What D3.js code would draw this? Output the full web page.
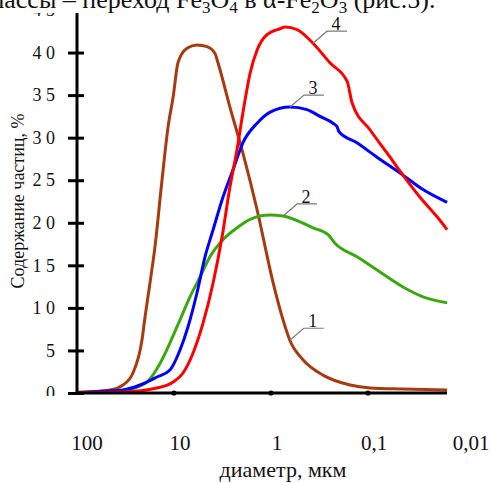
<!DOCTYPE html>
<html>
<head>
<meta charset="utf-8">
<script src="https://cdn.jsdelivr.net/npm/d3@7"></script>
<style>
  body { margin: 0; background: #fff; }
</style>
</head>
<body>
<div id="chart"></div>
<script>
// diameters (мкм) and contents (%)
const d1 = [100, 45.7, 33.6, 26.5, 21.4, 19.9, 17.7, 15.7, 13.3, 11.5, 10.2, 9.1, 7.35, 5.8, 4.57, 3.78, 3.52, 2.65, 1.95, 1.39, 0.953, 0.77, 0.64, 0.468, 0.291, 0.153, 0.095, 0.044, 0.0153];
const v1 = [0.05, 0.35, 0.94, 2.35, 6.2, 8.9, 12.9, 17.2, 25.0, 31.3, 34.8, 38.8, 40.5, 40.9, 40.7, 39.9, 38.8, 33.6, 28.2, 21.5, 13.0, 9.0, 6.2, 3.9, 2.1, 0.94, 0.6, 0.47, 0.35];

const d2 = [100, 33.6, 22.4, 19.0, 13.9, 11.0, 8.67, 6.84, 5.4, 4.26, 3.13, 2.24, 1.64, 1.02, 0.751, 0.502, 0.369, 0.258, 0.219, 0.13, 0.0807, 0.0436, 0.0271, 0.0153];
const v2 = [0.05, 0.3, 0.82, 1.29, 3.5, 5.9, 8.6, 11.3, 13.6, 16.0, 18.0, 19.4, 20.4, 20.9, 20.8, 20.1, 19.4, 18.6, 17.6, 16.0, 14.45, 12.45, 11.3, 10.6];

const d3v = [100, 73.5, 33.6, 22.4, 15.0, 11.0, 8.67, 7.18, 5.8, 4.79, 3.96, 3.13, 2.47, 1.95, 1.39, 1.02, 0.637, 0.426, 0.313, 0.23, 0.209, 0.199, 0.13, 0.0807, 0.0436, 0.0271, 0.0153];
const v3 = [0.05, 0.12, 0.35, 0.94, 1.88, 2.7, 5.05, 7.75, 11.75, 16.0, 19.15, 23.0, 26.2, 29.4, 31.7, 33.0, 33.6, 33.3, 32.5, 31.7, 31.3, 30.7, 29.4, 27.7, 25.6, 23.9, 22.4];

const d4 = [100, 33.6, 15.0, 10.2, 8.07, 6.36, 5.02, 3.96, 3.2, 2.65, 2.24, 1.95, 1.64, 1.39, 1.10, 0.807, 0.718, 0.54, 0.369, 0.247, 0.164, 0.146, 0.095, 0.0637, 0.0436, 0.0291, 0.0194, 0.0153];
const v4 = [0.05, 0.12, 0.59, 1.29, 2.35, 4.7, 8.2, 12.9, 18.3, 24.2, 28.6, 32.9, 37.6, 40.3, 42.1, 42.8, 43.0, 42.7, 41.1, 38.8, 36.6, 34.1, 30.9, 28.2, 25.6, 23.0, 20.7, 19.2];

const seriesNames = ["1", "2", "3", "4"];
const seriesColors = ["#A83A10", "#3BA80F", "#0000FF", "#FF0000"];
// diameter where each number's leader line meets its curve
const labelAt = [0.64, 0.751, 0.637, 0.369];

const xTicks = [100, 10, 1, 0.1, 0.01];
const xTickLabels = ["100", "10", "1", "0,1", "0,01"];
const yTicks = [0, 5, 10, 15, 20, 25, 30, 35, 40, 45];

const FONT = "'Liberation Serif', 'Times New Roman', 'DejaVu Serif', serif";
const W = 491, H = 483;
const svg = d3.select("#chart").append("svg")
    .attr("width", W)
    .attr("height", H)
    .attr("font-family", FONT);

const x = d3.scaleLog().domain([100, 0.01]).range([77, 465]);
const y = d3.scaleLinear().domain([0, 45]).range([393, 10]);
const xEnd = 447;

const series = [
    { name: seriesNames[0], d: d1, v: v1 },
    { name: seriesNames[1], d: d2, v: v2 },
    { name: seriesNames[2], d: d3v, v: v3 },
    { name: seriesNames[3], d: d4, v: v4 }
];

// curves
const line = d3.line()
    .x(p => x(p[0]))
    .y(p => y(p[1]))
    .curve(d3.curveMonotoneX);

series.forEach((s, i) => {
    svg.append("path")
        .datum(d3.zip(s.d, s.v))
        .attr("fill", "none")
        .attr("stroke", seriesColors[i])
        .attr("stroke-width", 3)
        .attr("stroke-linejoin", "round")
        .attr("d", line);
});

// number labels with leader lines
series.forEach((s, i) => {
    const k = s.d.indexOf(labelAt[i]);
    const px = x(s.d[k]), py = y(s.v[k]);
    const lx = px + 14, ly = py - 12;
    svg.append("path")
        .attr("d", `M${px},${py}L${lx},${ly}L${lx + 20},${ly}`)
        .attr("fill", "none")
        .attr("stroke", "#7a7a7a")
        .attr("stroke-width", 1.2);
    svg.append("text")
        .attr("x", lx + 9)
        .attr("y", ly - 1)
        .attr("text-anchor", "middle")
        .attr("font-family", FONT)
        .attr("font-size", 18)
        .attr("fill", "#111")
        .text(s.name);
});

// y axis
const yAxis = svg.append("g")
    .attr("transform", "translate(77,0)")
    .call(d3.axisLeft(y).tickValues(yTicks).tickSize(9).tickPadding(13)
        .tickFormat(d => String(d).split("").join(" ")));
yAxis.attr("font-family", FONT).attr("font-size", 18);
yAxis.select(".domain").remove();
yAxis.selectAll(".tick line")
    .attr("x1", 7).attr("x2", -9)
    .attr("stroke", "#000")
    .attr("stroke-width", 3)
    .filter(d => d === 45).remove();
yAxis.selectAll(".tick text")
    .attr("font-family", FONT)
    .attr("font-size", 18)
    .attr("fill", "#111");
svg.append("line")
    .attr("x1", 77).attr("x2", 77)
    .attr("y1", 13).attr("y2", 394.5)
    .attr("stroke", "#000")
    .attr("stroke-width", 3);

// white band below the axis hides the lower half of "0"
svg.append("rect")
    .attr("x", 40).attr("y", 396)
    .attr("width", 60).attr("height", 20)
    .attr("fill", "#fff");

// x axis
svg.append("line")
    .attr("x1", 75.5).attr("x2", xEnd)
    .attr("y1", 393).attr("y2", 393)
    .attr("stroke", "#000")
    .attr("stroke-width", 3);
svg.selectAll(".xdot")
    .data(xTicks.slice(1, 4))
    .enter()
    .append("circle")
    .attr("cx", d => x(d))
    .attr("cy", 393)
    .attr("r", 2.6)
    .attr("fill", "#000");
svg.selectAll(".xlab")
    .data(xTicks)
    .enter()
    .append("text")
    .attr("x", (d, i) => x(d) + (i === 0 ? 10 : 6))
    .attr("y", 450)
    .attr("text-anchor", "middle")
    .attr("font-family", FONT)
    .attr("font-size", 21)
    .attr("fill", "#111")
    .text((d, i) => xTickLabels[i]);

// axis titles
svg.append("text")
    .attr("x", 283)
    .attr("y", 477)
    .attr("text-anchor", "middle")
    .attr("font-family", FONT)
    .attr("font-size", 22)
    .attr("fill", "#111")
    .text("диаметр, мкм");

svg.append("text")
    .attr("transform", "translate(24,201) rotate(-90)")
    .attr("text-anchor", "middle")
    .attr("font-family", FONT)
    .attr("font-size", 18)
    .attr("fill", "#111")
    .text("Содержание частиц, %");

// cropped line of body text above the figure; its white band hides the top of "4 5"
svg.append("rect")
    .attr("x", 0).attr("y", 0)
    .attr("width", W).attr("height", 13)
    .attr("fill", "#fff");
const head = svg.append("text")
    .attr("x", -12)
    .attr("y", 8)
    .attr("font-family", FONT)
    .attr("font-size", 26)
    .attr("fill", "#111");
head.append("tspan").text("массы – переход Fe");
head.append("tspan").attr("dy", 5).attr("font-size", 17).text("3");
head.append("tspan").attr("dy", -5).text("O");
head.append("tspan").attr("dy", 5).attr("font-size", 17).text("4");
head.append("tspan").attr("dy", -5).text(" в α-Fe");
head.append("tspan").attr("dy", 5).attr("font-size", 17).text("2");
head.append("tspan").attr("dy", -5).text("O");
head.append("tspan").attr("dy", 5).attr("font-size", 17).text("3");
head.append("tspan").attr("dy", -5).text(" (рис.5).");
</script>
</body>
</html>
